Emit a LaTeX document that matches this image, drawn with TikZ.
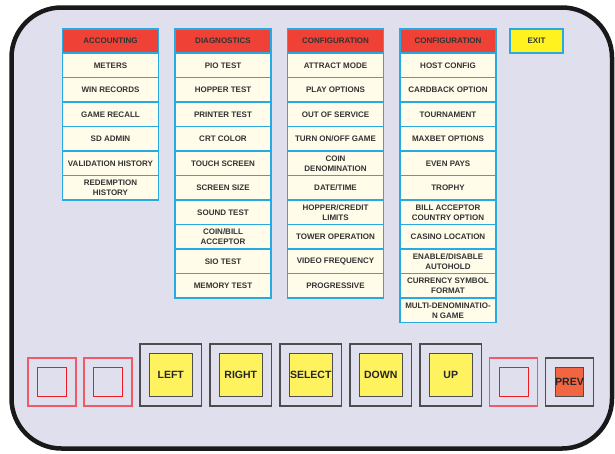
\documentclass[tikz,border=0pt]{standalone}
\usepackage{fontspec}
\setmainfont{Liberation Sans}
\usepackage{tikz}
\usetikzlibrary{positioning}
\definecolor{panelbg}{RGB}{224,223,238}
\definecolor{cellline}{RGB}{39,170,225}
\definecolor{headred}{RGB}{239,65,54}
\definecolor{cellcream}{RGB}{255,252,234}
\definecolor{exityel}{RGB}{255,242,30}
\definecolor{keyyel}{RGB}{255,242,95}
\definecolor{keygray}{RGB}{77,77,79}
\definecolor{prevorange}{RGB}{241,101,66}
\definecolor{blankred}{RGB}{239,90,105}
\definecolor{blankinner}{RGB}{237,28,36}
\definecolor{txt}{RGB}{51,51,51}

\begin{document}
\begin{tikzpicture}[
  x=1pt, y=-1pt, outer sep=0pt,
  panel/.style={draw=black!90, line width=4.5pt, fill=panelbg, rounded corners=50pt},
  cell/.style={draw=cellline, line width=1.2pt, fill=cellcream, minimum width=96pt,
    minimum height=24.5pt, inner sep=0pt, align=center, text=txt,
    font=\fontsize{8}{10}\selectfont\bfseries},
  headcell/.style={cell, fill=headred, minimum height=24pt},
  exitcell/.style={cell, fill=exityel, minimum width=53pt, minimum height=24pt},
  keybox/.style={draw=keygray, line width=1.2pt, minimum width=61.5pt, minimum height=62pt, inner sep=0pt},
  keyface/.style={draw=keygray, line width=1pt, fill=keyyel, minimum width=43.5pt,
    minimum height=43pt, inner sep=0pt, text=black!85, font=\fontsize{10.5}{12}\selectfont\bfseries},
  blank/.style={draw=blankred, line width=1.3pt, minimum size=48pt, inner sep=0pt},
  blankface/.style={draw=blankinner, line width=1pt, minimum size=29pt, inner sep=0pt},
  prevbox/.style={blank, draw=keygray, line width=1.2pt},
  prevface/.style={keyface, fill=prevorange, minimum width=28pt, minimum height=29pt}
]
\useasboundingbox (0,0) rectangle (615,453);
\draw[panel] (11.5,7.5) rectangle (612,448.5);

% accounting
\node[headcell] (acc) at (110.5,41) {ACCOUNTING};
\node[cell, below=0pt of acc] (acc1) {METERS};
\node[cell, below=0pt of acc1] (acc2) {WIN RECORDS};
\node[cell, below=0pt of acc2] (acc3) {GAME RECALL};
\node[cell, below=0pt of acc3] (acc4) {SD ADMIN};
\node[cell, below=0pt of acc4] (acc5) {VALIDATION HISTORY};
\node[cell, below=0pt of acc5] (acc6) {REDEMPTION\\HISTORY};

% diagnostics
\node[headcell, right=16.5pt of acc] (diag) {DIAGNOSTICS};
\node[cell, below=0pt of diag] (diag1) {PIO TEST};
\node[cell, below=0pt of diag1] (diag2) {HOPPER TEST};
\node[cell, below=0pt of diag2] (diag3) {PRINTER TEST};
\node[cell, below=0pt of diag3] (diag4) {CRT COLOR};
\node[cell, below=0pt of diag4] (diag5) {TOUCH SCREEN};
\node[cell, below=0pt of diag5] (diag6) {SCREEN SIZE};
\node[cell, below=0pt of diag6] (diag7) {SOUND TEST};
\node[cell, below=0pt of diag7] (diag8) {COIN/BILL\\ACCEPTOR};
\node[cell, below=0pt of diag8] (diag9) {SIO TEST};
\node[cell, below=0pt of diag9] (diag10) {MEMORY TEST};

% configuration, first page
\node[headcell, right=16.5pt of diag] (cfga) {CONFIGURATION};
\node[cell, below=0pt of cfga] (cfga1) {ATTRACT MODE};
\node[cell, below=0pt of cfga1] (cfga2) {PLAY OPTIONS};
\node[cell, below=0pt of cfga2] (cfga3) {OUT OF SERVICE};
\node[cell, below=0pt of cfga3] (cfga4) {TURN ON/OFF GAME};
\node[cell, below=0pt of cfga4] (cfga5) {COIN\\DENOMINATION};
\node[cell, below=0pt of cfga5] (cfga6) {DATE/TIME};
\node[cell, below=0pt of cfga6] (cfga7) {HOPPER/CREDIT\\LIMITS};
\node[cell, below=0pt of cfga7] (cfga8) {TOWER OPERATION};
\node[cell, below=0pt of cfga8] (cfga9) {VIDEO FREQUENCY};
\node[cell, below=0pt of cfga9] (cfga10) {PROGRESSIVE};

% configuration, second page
\node[headcell, right=16.5pt of cfga] (cfgb) {CONFIGURATION};
\node[cell, below=0pt of cfgb] (cfgb1) {HOST CONFIG};
\node[cell, below=0pt of cfgb1] (cfgb2) {CARDBACK OPTION};
\node[cell, below=0pt of cfgb2] (cfgb3) {TOURNAMENT};
\node[cell, below=0pt of cfgb3] (cfgb4) {MAXBET OPTIONS};
\node[cell, below=0pt of cfgb4] (cfgb5) {EVEN PAYS};
\node[cell, below=0pt of cfgb5] (cfgb6) {TROPHY};
\node[cell, below=0pt of cfgb6] (cfgb7) {BILL ACCEPTOR\\COUNTRY OPTION};
\node[cell, below=0pt of cfgb7] (cfgb8) {CASINO LOCATION};
\node[cell, below=0pt of cfgb8] (cfgb9) {ENABLE/DISABLE\\AUTOHOLD};
\node[cell, below=0pt of cfgb9] (cfgb10) {CURRENCY SYMBOL\\FORMAT};
\node[cell, below=0pt of cfgb10] (cfgb11) {MULTI-DENOMINATIO-\\N GAME};

\node[exitcell, right=14pt of cfgb] (exit) {EXIT};

% button row
\node[blank] (b1) at (52,382) {};
\node[blankface] (b1f) at (b1) {};
\node[blank, right=8pt of b1] (b2) {};
\node[blankface] (b2f) at (b2) {};
\node[keybox, right=8pt of b2.south east, anchor=south west] (kleft) {};
\node[keyface] (left) at (kleft) {LEFT};
\node[keybox, right=8.5pt of kleft] (kright) {};
\node[keyface] (right) at (kright) {RIGHT};
\node[keybox, right=8.5pt of kright] (kselect) {};
\node[keyface] (select) at (kselect) {SELECT};
\node[keybox, right=8.5pt of kselect] (kdown) {};
\node[keyface] (down) at (kdown) {DOWN};
\node[keybox, right=8.5pt of kdown] (kup) {};
\node[keyface] (up) at (kup) {UP};
\node[blank, right=8pt of kup.south east, anchor=south west] (b3) {};
\node[blankface] (b3f) at (b3) {};
\node[prevbox, right=8pt of b3] (kprev) {};
\node[prevface] (prev) at (kprev) {PREV};
\end{tikzpicture}
\end{document}
